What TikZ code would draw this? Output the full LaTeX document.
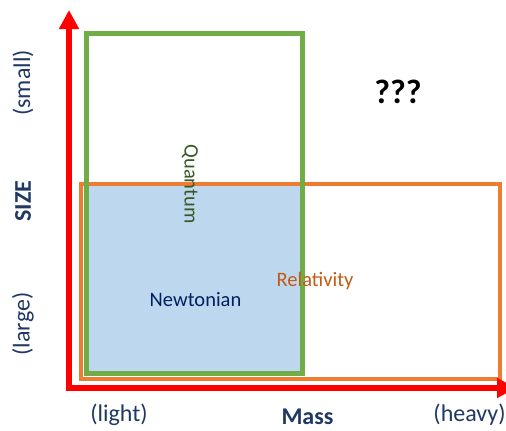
\documentclass[tikz,border=0pt]{standalone}
\usepackage{fontspec}
\setmainfont{Carlito}
\usetikzlibrary{arrows.meta}
\definecolor{axisred}{HTML}{FF0000}
\definecolor{navy}{HTML}{1F3864}
\definecolor{newtblue}{HTML}{002060}
\definecolor{qgreen}{HTML}{385723}
\definecolor{boxgreen}{HTML}{70AD47}
\definecolor{boxorange}{HTML}{ED7D31}
\definecolor{relorange}{HTML}{C55A11}
\definecolor{fillblue}{HTML}{BDD7EE}
\begin{document}
\begin{tikzpicture}[x=1pt,y=-1pt,
  axis/.style={draw=axisred, line width=6pt, line join=miter,
    {Triangle[length=19pt,width=19pt]}-{Triangle[length=19pt,width=19pt]}},
  axlbl/.style={font=\fontsize{24}{28}\selectfont, text=navy, inner sep=0pt},
  axbold/.style={axlbl, font=\fontsize{24}{28}\selectfont\bfseries},
  region/.style={font=\fontsize{20.5}{24}\selectfont, inner sep=0pt}]
\useasboundingbox (0,0) rectangle (506,431);
% fills and boxes
\fill[fillblue] (86,184) rectangle (302.5,373.5);
\draw[boxorange, line width=4pt] (81,184) rectangle (499.5,379);
\draw[boxgreen, line width=5pt] (86,33.5) rectangle (302.5,373.5);
% axes
\coordinate (ytip) at (69,10);
\coordinate (origin) at (69,388);
\coordinate (xtip) at (516,388);
\draw[axis] (ytip) -- (origin) -- (xtip);
% axis labels
\node[axlbl, rotate=90] (small) at (23,83) {(small)};
\node[axbold, rotate=90] (size) at (23,201) {SIZE};
\node[axlbl, rotate=90] (large) at (23,324) {(large)};
\node[axlbl, anchor=base] (light) at (119,421) {(light)};
\node[axbold, anchor=base] (mass) at (307.5,424) {Mass};
\node[axlbl, anchor=base] (heavy) at (469.5,421) {(heavy)};
% region labels
\node[font=\fontsize{34}{40}\selectfont\bfseries, inner sep=0pt, anchor=base] (unk) at (398,103) {???};
\node[region, text=qgreen, rotate=-90] (quantum) at (190,184) {Quantum};
\node[region, text=newtblue, anchor=base] (newton) at (195.5,306) {Newtonian};
\node[region, text=relorange, anchor=base] (rel) at (315,286) {Relativity};
\end{tikzpicture}
\end{document}
